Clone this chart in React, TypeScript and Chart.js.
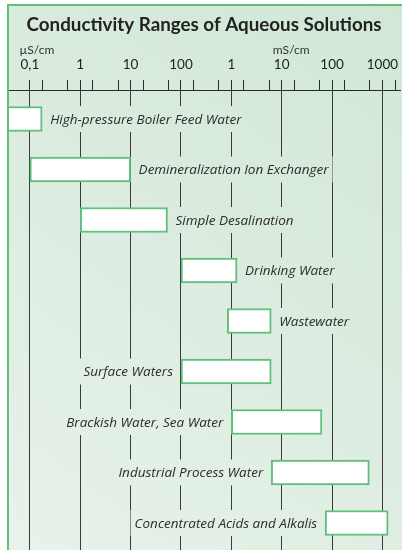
import React, { useEffect, useRef } from "react";
import { Chart, registerables } from "chart.js";

Chart.register(...registerables);

const TITLE = "Conductivity Ranges of Aqueous Solutions";

const categories = [
  "High-pressure Boiler Feed Water",
  "Demineralization Ion Exchanger",
  "Simple Desalination",
  "Drinking Water",
  "Wastewater",
  "Surface Waters",
  "Brackish Water, Sea Water",
  "Industrial Process Water",
  "Concentrated Acids and Alkalis",
];

// conductivity ranges in µS/cm
const rangeLow = [0.03, 0.1, 1, 100, 830, 100, 1000, 6200, 73000];
const rangeHigh = [0.175, 10, 54, 1300, 6200, 6200, 63000, 550000, 1300000];
const labelSide = ["right", "right", "right", "right", "right", "left", "left", "left", "left"];

const majorTickValues = [0.1, 1, 10, 100, 1000, 10000, 100000, 1000000];
const majorTickLabels = ["0,1", "1", "10", "100", "1", "10", "100", "1000"];
const minorTickValues = [
  0.178, 0.562, 1.78, 5.62, 17.8, 56.2, 178, 562, 1778, 5623, 17783, 56234,
  177828, 562341, 1778279,
];
const unitLabels = ["µS/cm", "mS/cm"];
const unitAnchorValues = [0.1, 10000];

const AXIS_MIN = 0.03674;
const AXIS_MAX = 2249000;

const GREEN = "#5fc07e";
const TICK_FONT = "13.5px Lato";

function isMajor(v: number) {
  return majorTickValues.some((m) => Math.abs(Math.log10(v) - Math.log10(m)) < 1e-6);
}
function majorIndex(v: number) {
  return majorTickValues.findIndex((m) => Math.abs(Math.log10(v) - Math.log10(m)) < 1e-6);
}

let bgGradient: any = null;

const decorPlugin = {
  id: "decor",
  beforeDraw(chart: any) {
    const ctx = chart.ctx;
    const w = chart.width;
    const h = chart.height;
    ctx.save();
    ctx.fillStyle = "#ffffff";
    ctx.fillRect(0, 0, w, h);
    const g = ctx.createLinearGradient(402, 0, 0, 550);
    g.addColorStop(0, "#d1e7d4");
    g.addColorStop(0.5, "#dcece0");
    g.addColorStop(1, "#e8f2ea");
    bgGradient = g;
    ctx.fillStyle = g;
    ctx.fillRect(8, 5, w - 8, h - 5);
    ctx.restore();
  },
  afterDatasetsDraw(chart: any) {
    const ctx = chart.ctx;
    const meta = chart.getDatasetMeta(0);
    ctx.save();
    ctx.font = "italic 13.5px 'Open Sans'";
    ctx.textBaseline = "middle";
    meta.data.forEach((el: any, i: number) => {
      const left = Math.min(el.x, el.base);
      const right = Math.max(el.x, el.base);
      const y = el.y;
      const text = categories[i];
      const tw = ctx.measureText(text).width;
      const gap = 8;
      let tx: number;
      if (labelSide[i] === "right") {
        tx = right + gap;
      } else {
        tx = left - gap - tw;
      }
      ctx.fillStyle = bgGradient || "#dcece0";
      ctx.fillRect(tx - 4, y - 13, tw + 8, 26);
      ctx.fillStyle = "#2b2b2b";
      ctx.textAlign = "left";
      ctx.fillText(text, tx, y + 1);
    });
    ctx.restore();
  },
  afterDraw(chart: any) {
    const ctx = chart.ctx;
    const area = chart.chartArea;
    const xs = chart.scales.x;
    ctx.save();
    // title
    ctx.fillStyle = "#222222";
    ctx.font = "bold 18.8px Lato";
    ctx.textAlign = "center";
    ctx.textBaseline = "alphabetic";
    ctx.fillText(TITLE, (area.left + area.right) / 2, 31);
    // units, left aligned with the tick label below
    ctx.font = TICK_FONT;
    const labelWidths = unitAnchorValues.map((v) => {
      const idx = majorIndex(v);
      return ctx.measureText(majorTickLabels[idx]).width;
    });
    ctx.font = "12px Lato";
    ctx.fillStyle = "#333333";
    ctx.textAlign = "left";
    unitAnchorValues.forEach((v, i) => {
      const px = xs.getPixelForValue(v);
      ctx.fillText(unitLabels[i], px - labelWidths[i] / 2 - 1, 54);
    });
    // frame
    ctx.strokeStyle = GREEN;
    ctx.lineWidth = 2;
    ctx.beginPath();
    ctx.moveTo(8, chart.height + 2);
    ctx.lineTo(8, 5);
    ctx.lineTo(chart.width + 2, 5);
    ctx.stroke();
    ctx.restore();
  },
};

export default function App() {
  const canvasRef = useRef<HTMLCanvasElement | null>(null);

  useEffect(() => {
    const canvas = canvasRef.current;
    if (!canvas) return;
    const chart = new Chart(canvas, {
      type: "bar",
      data: {
        datasets: [
          {
            data: categories.map((c, i) => ({ x: [rangeLow[i], rangeHigh[i]], y: i })) as any,
            backgroundColor: "#ffffff",
            borderColor: GREEN,
            borderWidth: 2,
            borderSkipped: false,
            barThickness: 25,
          } as any,
        ],
      },
      plugins: [decorPlugin],
      options: {
        indexAxis: "y",
        animation: false,
        responsive: false,
        devicePixelRatio: 1,
        layout: { padding: { left: 8, right: 0, top: 0, bottom: 0 } },
        plugins: {
          legend: { display: false },
          title: { display: false },
          tooltip: { enabled: false },
        },
        scales: {
          x: {
            type: "logarithmic",
            position: "top",
            min: AXIS_MIN,
            max: AXIS_MAX,
            afterBuildTicks: (scale: any) => {
              const vals = [...majorTickValues, ...minorTickValues].sort((a, b) => a - b);
              scale.ticks = vals.map((v) => ({ value: v }));
            },
            afterFit: (scale: any) => {
              scale.height = 90;
            },
            border: { display: true, color: "#2a2a2a", width: 1 },
            grid: {
              drawOnChartArea: true,
              drawTicks: true,
              tickLength: 10,
              lineWidth: 1,
              color: (ctx: any) =>
                ctx.tick && isMajor(ctx.tick.value) ? "#3a3a3a" : "rgba(0,0,0,0)",
              tickColor: "#2a2a2a",
            },
            ticks: {
              autoSkip: false,
              maxRotation: 0,
              minRotation: 0,
              padding: 7,
              color: "#222222",
              font: { family: "Lato", size: 13.5 },
              callback: (value: any) => {
                const idx = majorIndex(Number(value));
                return idx >= 0 ? majorTickLabels[idx] : "";
              },
            },
          } as any,
          y: {
            type: "linear",
            display: false,
            offset: false,
            reverse: true,
            min: -0.574,
            max: 8.535,
            grid: { display: false },
          },
        },
      } as any,
    });
    return () => chart.destroy();
  }, []);

  return (
    <div style={{ position: "absolute", left: 0, top: 0, width: 402, height: 550, overflow: "hidden" }}>
      <canvas ref={canvasRef} width={402} height={550} style={{ display: "block", width: 402, height: 550 }} />
    </div>
  );
}
